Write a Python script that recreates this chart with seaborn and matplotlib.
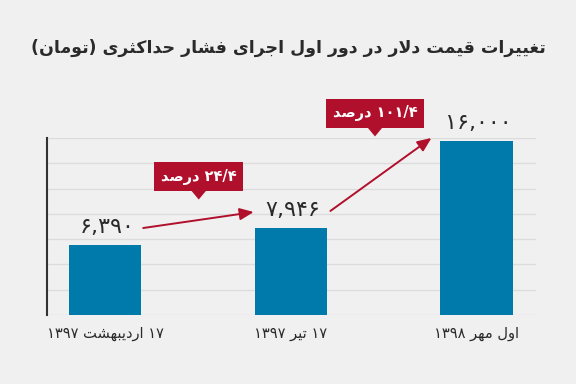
import matplotlib
matplotlib.use("Agg")
import matplotlib.pyplot as plt
import seaborn as sns
import pandas as pd
from matplotlib.patches import Polygon

# data
dates = ["۱۷ اردیبهشت ۱۳۹۷", "۱۷ تیر ۱۳۹۷", "اول مهر ۱۳۹۸"]
prices = [6390, 7946, 16000]
title = "تغییرات قیمت دلار در دور اول اجرای فشار حداکثری (تومان)"
pct_word = "درصد"

BG = "#f0f0f0"
BAR = "#007aab"
RED = "#b0102b"
TXT = "#2a2a2a"

# --- minimal Arabic/Persian shaping (matplotlib does no shaping / bidi) ---
# letter: (isolated, final, initial, medial); right-joining letters have only 2
FORMS = {
    "ا": (0xFE8D, 0xFE8E), "د": (0xFEA9, 0xFEAA), "ذ": (0xFEAB, 0xFEAC),
    "ر": (0xFEAD, 0xFEAE), "ز": (0xFEAF, 0xFEB0), "و": (0xFEED, 0xFEEE),
    "ب": (0xFE8F, 0xFE90, 0xFE91, 0xFE92), "ت": (0xFE95, 0xFE96, 0xFE97, 0xFE98),
    "ث": (0xFE99, 0xFE9A, 0xFE9B, 0xFE9C), "ج": (0xFE9D, 0xFE9E, 0xFE9F, 0xFEA0),
    "ح": (0xFEA1, 0xFEA2, 0xFEA3, 0xFEA4), "خ": (0xFEA5, 0xFEA6, 0xFEA7, 0xFEA8),
    "س": (0xFEB1, 0xFEB2, 0xFEB3, 0xFEB4), "ش": (0xFEB5, 0xFEB6, 0xFEB7, 0xFEB8),
    "ص": (0xFEB9, 0xFEBA, 0xFEBB, 0xFEBC), "ع": (0xFEC9, 0xFECA, 0xFECB, 0xFECC),
    "غ": (0xFECD, 0xFECE, 0xFECF, 0xFED0), "ف": (0xFED1, 0xFED2, 0xFED3, 0xFED4),
    "ق": (0xFED5, 0xFED6, 0xFED7, 0xFED8), "ل": (0xFEDD, 0xFEDE, 0xFEDF, 0xFEE0),
    "م": (0xFEE1, 0xFEE2, 0xFEE3, 0xFEE4), "ن": (0xFEE5, 0xFEE6, 0xFEE7, 0xFEE8),
    "ه": (0xFEE9, 0xFEEA, 0xFEEB, 0xFEEC), "ک": (0xFB8E, 0xFB8F, 0xFB90, 0xFB91),
    "ی": (0xFBFC, 0xFBFD, 0xFBFE, 0xFBFF),
}
DIGITS = set("۰۱۲۳۴۵۶۷۸۹0123456789")
MIRROR = {"(": ")", ")": "("}


def shape(s):
    chars = list(s)
    out = []
    n = len(chars)
    i = 0
    while i < n:
        c = chars[i]
        prev = chars[i - 1] if i > 0 else None
        joins_prev = prev in FORMS and len(FORMS[prev]) == 4 and c in FORMS
        # lam-alef ligature
        if c == "ل" and i + 1 < n and chars[i + 1] == "ا":
            out.append(chr(0xFEFC if joins_prev else 0xFEFB))
            i += 2
            continue
        if c not in FORMS:
            out.append(c)
            i += 1
            continue
        f = FORMS[c]
        nxt = chars[i + 1] if i + 1 < n else None
        joins_next = len(f) == 4 and nxt in FORMS
        if joins_prev and joins_next:
            out.append(chr(f[3]))
        elif joins_prev:
            out.append(chr(f[1]))
        elif joins_next:
            out.append(chr(f[2]))
        else:
            out.append(chr(f[0]))
        i += 1
    # visual order: reverse runs, keep number runs left-to-right
    runs = []
    for ch in out:
        is_num = ch in DIGITS or (ch in ",./" and runs and runs[-1][0])
        if runs and runs[-1][0] == is_num:
            runs[-1][1].append(ch)
        else:
            runs.append([is_num, [ch]])
    vis = []
    for is_num, rc in reversed(runs):
        if is_num:
            vis.extend(rc)
        else:
            vis.extend(MIRROR.get(ch, ch) for ch in reversed(rc))
    return "".join(vis)


def fa(num_str):
    return num_str.translate(str.maketrans("0123456789", "۰۱۲۳۴۵۶۷۸۹"))


df = pd.DataFrame({"date": [shape(d) for d in dates], "price": prices})

sns.set_theme(style="white")
plt.rcParams["font.family"] = ["DejaVu Sans"]

fig = plt.figure(figsize=(5.76, 3.84), dpi=100, facecolor=BG)
ax = fig.add_axes([0.0816, 0.1797, 0.849, 0.461])
ax.set_facecolor(BG)

sns.barplot(data=df, x="date", y="price", color=BAR, width=0.39,
            saturation=1, linewidth=0, ax=ax, zorder=3)

ymax = 16240
ax.set_ylim(0, ymax)
ax.set_xlim(-0.313, 2.32)
ax.set_yticks([ymax * k / 7 for k in range(8)])
ax.yaxis.grid(True, color="#dcdcdc", linewidth=1, zorder=0)
ax.set_yticklabels([])
ax.tick_params(axis="y", length=0)
ax.tick_params(axis="x", length=0, pad=8, labelsize=10.5, labelcolor=TXT)
ax.set_xlabel("")
ax.set_ylabel("")
for side in ["top", "right", "bottom"]:
    ax.spines[side].set_visible(False)
ax.spines["left"].set_color("#333333")
ax.spines["left"].set_linewidth(1.5)

# value labels
for i, v in enumerate(prices):
    ax.text(i + 0.01, v + 1650, fa(f"{v:,}"), ha="center", va="center",
            fontsize=16, color=TXT)

# arrows between value labels
arrow_kw = dict(arrowstyle="-|>,head_length=0.7,head_width=0.3", color=RED,
                lw=1.4, shrinkA=0, shrinkB=0)
ax.annotate("", xy=(0.80, prices[1] + 1500), xytext=(0.205, prices[0] + 1590),
            arrowprops=arrow_kw, annotation_clip=False)
ax.annotate("", xy=(1.757, prices[2] + 240), xytext=(1.213, prices[1] + 1600),
            arrowprops=arrow_kw, annotation_clip=False)

# percentage call-out boxes
boxes = [(0.504, 12700), (1.453, 18490)]
for k, (bx, by) in enumerate(boxes):
    pct = (prices[k + 1] - prices[k]) / prices[k] * 100
    label = fa(f"{pct:.1f}".replace(".", "/")) + " " + pct_word
    ax.text(bx, by, shape(label), ha="center", va="center", fontsize=10.5,
            color="white", fontweight="bold", zorder=6, clip_on=False,
            bbox=dict(boxstyle="square,pad=0.45", fc=RED, ec="none"))
    # pointer under the box
    px, py = ax.transData.transform((bx, by))
    tri = Polygon([(px - 10, py - 11), (px + 10, py - 11), (px, py - 23)],
                  closed=True, transform=None, fc=RED, ec="none", zorder=5,
                  clip_on=False)
    ax.add_artist(tri)

fig.text(0.5, 0.875, shape(title), ha="center", va="center", fontsize=12.5,
         fontweight="bold", color=TXT)

fig.savefig("out.png", dpi=100, facecolor=BG)
